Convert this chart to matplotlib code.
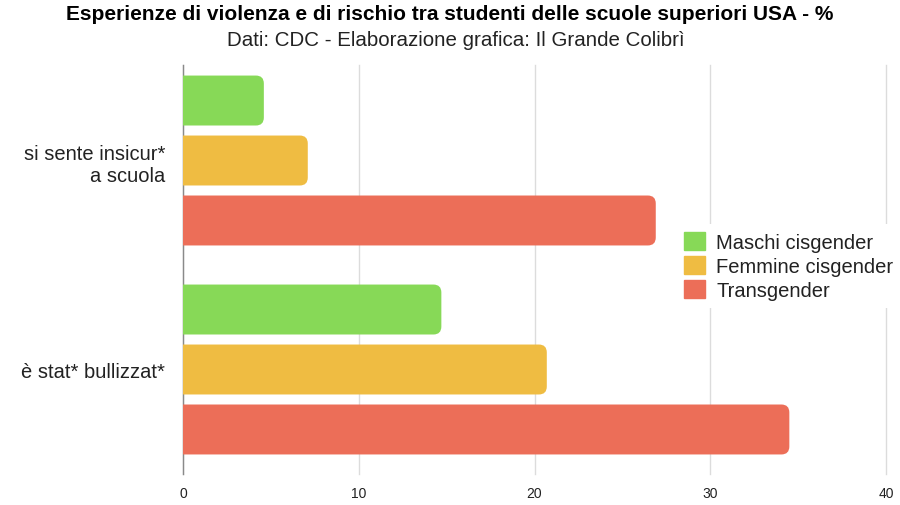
import numpy as np
import matplotlib.pyplot as plt
from matplotlib.patches import FancyBboxPatch

plt.rcParams['font.family'] = ['Liberation Sans', 'DejaVu Sans']

# data (%)
categorie = ["si sente insicur*\na scuola", "è stat* bullizzat*"]
gruppi = ["Maschi cisgender", "Femmine cisgender", "Transgender"]
maschi = [4.6, 14.7]
femmine = [7.1, 20.7]
trans = [26.9, 34.5]
colori = ["#87D957", "#EFBC42", "#EC6E58"]

fig = plt.figure(figsize=(9, 5.06), dpi=100)
ax = fig.add_axes([183/900, 31/506, 703/900, 409/506])

y = np.arange(len(categorie))
h = 0.239
step = 0.287
serie = [maschi, femmine, trans]
for i, (vals, col, lab) in enumerate(zip(serie, colori, gruppi)):
    bars = ax.barh(y + (i - 1) * step, vals, height=h, color=col, label=lab)
    # swap each plain bar for a rounded one (left end hidden behind the axis)
    for b in bars:
        b.set_visible(False)
        p = FancyBboxPatch((b.get_x() - 1, b.get_y()), b.get_width() + 1, b.get_height(),
                           boxstyle="round,pad=0,rounding_size=0.45",
                           mutation_aspect=0.085, facecolor=col, edgecolor="none",
                           zorder=3, clip_on=True)
        ax.add_patch(p)

ax.set_xlim(0, 40)
ax.set_ylim(1.5, -0.457)
ax.set_xticks([0, 10, 20, 30, 40])
ax.set_yticks(y)
ax.set_yticklabels(categorie, fontsize=14.5, color="#222222")
ax.tick_params(axis='x', length=0, labelsize=10, colors="#222222", pad=9)
ax.tick_params(axis='y', length=0, pad=13)
ax.grid(axis='x', color="#DCDCDC", linewidth=1, zorder=0)
for gl in ax.get_xgridlines():
    gl.set_clip_on(False)
ax.set_axisbelow(True)
for s in ['top', 'right', 'bottom']:
    ax.spines[s].set_visible(False)
ax.spines['left'].set_color("#8A8A8A")
ax.spines['left'].set_linewidth(1)

handles = [plt.Rectangle((0, 0), 1, 1, color=c) for c in colori]
leg = fig.legend(handles, gruppi, loc='center left', bbox_to_anchor=(676/900, 1 - 267/506),
                 frameon=True, fontsize=14.5, handlelength=1.05, handleheight=1.0,
                 handletextpad=0.55, labelspacing=0.2, borderpad=0.4, borderaxespad=0)
leg.set_zorder(5)
leg.get_frame().set_facecolor("white")
leg.get_frame().set_edgecolor("none")
leg.get_frame().set_alpha(1)
for t in leg.get_texts():
    t.set_color("#222222")

fig.text(0.5, 1 - 15/506, "Esperienze di violenza e di rischio tra studenti delle scuole superiori USA - %",
         ha='center', va='center', fontsize=15, fontweight='bold', color="black")
fig.text(456/900, 1 - 40/506, "Dati: CDC - Elaborazione grafica: Il Grande Colibrì",
         ha='center', va='center', fontsize=14.8, color="#222222")

fig.savefig("out.png", dpi=100)
